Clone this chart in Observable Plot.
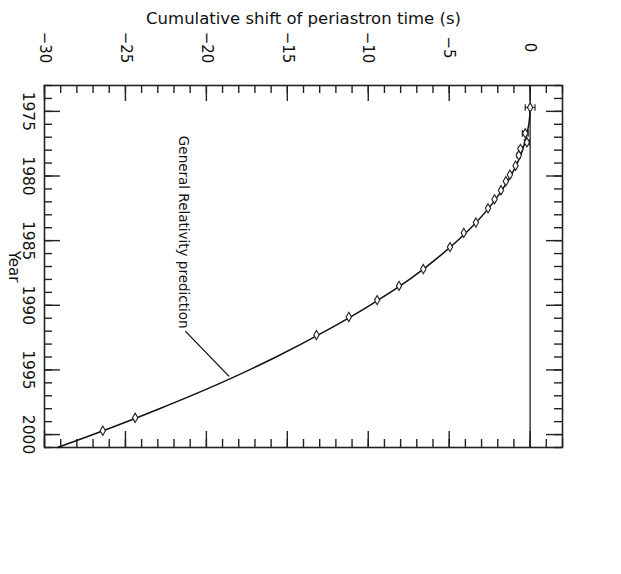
<!DOCTYPE html>
<html>
<head>
<meta charset="utf-8">
<script src="https://cdn.jsdelivr.net/npm/d3@7"></script>
<script src="https://cdn.jsdelivr.net/npm/@observablehq/plot@0.6"></script>
<style>
  html, body { margin: 0; padding: 0; background: #fff; }
  svg { display: block; }
</style>
</head>
<body>
<div id="chart"></div>
<script>
// Measured data points (year, cumulative shift in s) with half error bars
const obsYears  = [1974.7, 1976.7, 1977.4, 1977.9, 1978.4, 1979.2, 1979.9, 1980.4, 1981.1, 1981.8, 1982.5, 1983.6, 1984.4, 1985.5, 1987.2, 1988.5, 1989.6, 1990.9, 1992.3, 1998.7, 1999.7];
const obsShift  = [0.0, -0.3, -0.2, -0.6, -0.7, -0.9, -1.25, -1.5, -1.8, -2.2, -2.6, -3.35, -4.1, -4.95, -6.6, -8.1, -9.45, -11.2, -13.2, -24.4, -26.4];
const obsErr    = [0.3, 0.18, 0.15, 0.12, 0.1, 0.06, 0.05, 0.04, 0.04, 0.03, 0.03, 0.03, 0.03, 0.03, 0.03, 0.03, 0.03, 0.03, 0.03, 0.03, 0.03];

// General Relativity prediction curve
const grYears = [1974.7, 1976, 1978, 1980, 1982, 1984, 1986, 1988, 1990, 1992, 1994, 1996, 1998, 2000, 2001];
const grShift = [0, -0.08, -0.47, -1.2, -2.25, -3.65, -5.4, -7.45, -9.9, -12.65, -15.7, -19.1, -22.9, -27.0, -29.2];

// Axis ticks
const shiftMajor = [-30, -25, -20, -15, -10, -5, 0];
const shiftMinor = d3.range(-30, 3, 1);
const yearMajor  = [1975, 1980, 1985, 1990, 1995, 2000];
const yearMinor  = d3.range(1973, 2002, 1);

// Texts
const titleText = "Cumulative shift of periastron time (s)";
const yLabelText = "Year";
const annotText = "General Relativity prediction";
const annotPos = {shift: -21.45, year: 1991.8};
const leader = [{x1: -21.3, y1: 1992.0, x2: -18.6, y2: 1995.5}];

const obs = obsYears.map((y, i) => ({year: y, shift: obsShift[i], err: obsErr[i]}));
const gr = grYears.map((y, i) => ({year: y, shift: grShift[i]}));

const W = 621, H = 574;
const mL = 44, mR = 59, mT = 85, mB = 127;
const innerW = W - mL - mR, innerH = H - mT - mB;
const font = "DejaVu Sans, sans-serif";
const minus = v => (v < 0 ? "\u2212" : "") + Math.abs(v);

const chart = Plot.plot({
  width: W,
  height: H,
  marginLeft: mL, marginRight: mR, marginTop: mT, marginBottom: mB,
  style: {fontFamily: font, background: "#fff", color: "#111"},
  x: {domain: [-30, 2], axis: null},
  y: {domain: [1973, 2001], reverse: true, axis: null},
  marks: [
    // zero line
    Plot.ruleX([0], {stroke: "#222", strokeWidth: 1.3}),
    // top ticks
    Plot.ruleX(shiftMinor, {x: d => d, insetBottom: innerH - 8, stroke: "#222", strokeWidth: 1.4}),
    Plot.ruleX(shiftMajor, {x: d => d, insetBottom: innerH - 16, stroke: "#222", strokeWidth: 1.4}),
    // bottom ticks
    Plot.ruleX(shiftMinor, {x: d => d, insetTop: innerH - 8, stroke: "#222", strokeWidth: 1.4}),
    Plot.ruleX(shiftMajor, {x: d => d, insetTop: innerH - 16, stroke: "#222", strokeWidth: 1.4}),
    // left ticks
    Plot.ruleY(yearMinor, {y: d => d, insetRight: innerW - 8, stroke: "#222", strokeWidth: 1.4}),
    Plot.ruleY(yearMajor, {y: d => d, insetRight: innerW - 16, stroke: "#222", strokeWidth: 1.4}),
    // right ticks
    Plot.ruleY(yearMinor, {y: d => d, insetLeft: innerW - 8, stroke: "#222", strokeWidth: 1.4}),
    Plot.ruleY(yearMajor, {y: d => d, insetLeft: innerW - 16, stroke: "#222", strokeWidth: 1.4}),
    Plot.frame({stroke: "#222", strokeWidth: 1.6}),
    // GR curve
    Plot.line(gr, {x: "shift", y: "year", curve: "catmull-rom", stroke: "#111", strokeWidth: 1.5}),
    // error bars
    Plot.link(obs, {x1: d => d.shift - d.err, x2: d => d.shift + d.err, y1: "year", y2: "year",
      stroke: "#222", strokeWidth: 1.1, markerStart: "tick", markerEnd: "tick"}),
    // points
    Plot.dot(obs, {x: "shift", y: "year", symbol: "diamond", r: 2.8, fill: "#fff", stroke: "#222", strokeWidth: 1.1}),
    // leader line
    Plot.link(leader, {x1: "x1", y1: "y1", x2: "x2", y2: "y2", stroke: "#111", strokeWidth: 1.3}),
    // annotation text
    Plot.text([annotText], {x: () => annotPos.shift, y: () => annotPos.year, text: d => d, rotate: 90,
      textAnchor: "end", lineAnchor: "middle", fontSize: 13.5, fill: "#111"}),
    // x tick labels (top)
    Plot.text(shiftMajor, {x: d => d, text: minus, frameAnchor: "top", dy: -38, rotate: 90,
      textAnchor: "middle", lineAnchor: "middle", fontSize: 15, fill: "#111"}),
    // y tick labels (left)
    Plot.text(yearMajor, {y: d => d, text: d => String(d), frameAnchor: "left", dx: -17, rotate: 90,
      textAnchor: "middle", lineAnchor: "middle", fontSize: 15.5, fill: "#111"}),
    // y label
    Plot.text([yLabelText], {text: d => d, frameAnchor: "left", dx: -31, rotate: 90,
      textAnchor: "middle", lineAnchor: "middle", fontSize: 15, fill: "#111"}),
    // title
    Plot.text([titleText], {text: d => d, frameAnchor: "top", dy: -67,
      textAnchor: "middle", lineAnchor: "middle", fontSize: 16.5, fill: "#111"})
  ]
});
document.getElementById("chart").appendChild(chart);
</script>
</body>
</html>
